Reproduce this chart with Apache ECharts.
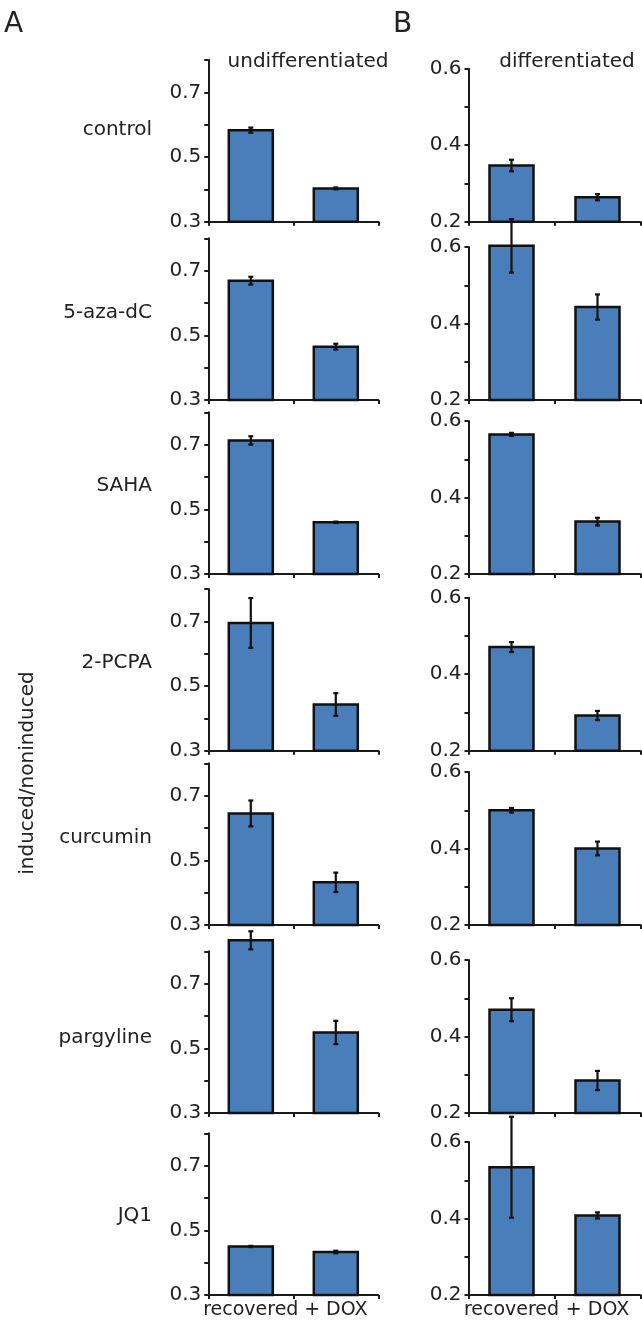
<!DOCTYPE html>
<html><head><meta charset="utf-8">
<script src="https://cdn.jsdelivr.net/npm/echarts@6/dist/echarts.min.js"></script>
<style>html,body{margin:0;padding:0;background:#fff}#c{width:642px;height:1321px}</style>
</head><body><div id="c"></div>
<script>
// ---- data ----
const treatments = ['control', '5-aza-dC', 'SAHA', '2-PCPA', 'curcumin', 'pargyline', 'JQ1'];
const conditions = ['recovered', '+ DOX'];
const undiffMean = [[0.583, 0.403], [0.669, 0.465], [0.713, 0.460], [0.695, 0.443], [0.645, 0.432], [0.834, 0.549], [0.450, 0.433]];
const undiffErr  = [[0.008, 0.003], [0.012, 0.009], [0.013, 0.002], [0.077, 0.035], [0.040, 0.030], [0.028, 0.036], [0.002, 0.004]];
const diffMean   = [[0.347, 0.264], [0.603, 0.443], [0.565, 0.337], [0.471, 0.292], [0.500, 0.400], [0.470, 0.285], [0.534, 0.408]];
const diffErr    = [[0.015, 0.008], [0.070, 0.033], [0.004, 0.010], [0.013, 0.012], [0.006, 0.018], [0.030, 0.025], [0.132, 0.008]];
const undiffTickLabels = ['0.3', '0.5', '0.7'];
const diffTickLabels = ['0.2', '0.4', '0.6'];
const panelTitles = ['undifferentiated', 'differentiated'];
const panelLetters = ['A', 'B'];
const yTitle = 'induced/noninduced';

// ---- layout ----
const FONT = 'DejaVu Sans';
const TXT = '#222';
const rowBottoms = [221.7, 400, 574, 750.7, 925, 1113, 1295];
const labelY = [130, 313, 486, 663, 838, 1038, 1216];
const cols = [
  {left: 208.3, width: 170, min: 0.3, max: 0.8, height: 161.7, ticks: undiffTickLabels, mean: undiffMean, err: undiffErr},
  {left: 468.5, width: 172, min: 0.2, max: 0.6, height: 153, ticks: diffTickLabels, mean: diffMean, err: diffErr}
];
const BAR_W = 44, CAP = 2.5;

const grids = [], xAxes = [], yAxes = [], series = [];
let gi = 0;
treatments.forEach((t, r) => {
  cols.forEach((c, ci) => {
    grids.push({left: c.left, top: rowBottoms[r] - c.height, width: c.width, height: c.height, containLabel: false});
    const last = r === treatments.length - 1;
    xAxes.push({
      type: 'category', gridIndex: gi, data: conditions, boundaryGap: true,
      axisLine: {lineStyle: {color: '#1a1a1a', width: 2}},
      axisTick: {show: true, inside: false, length: 4, alignWithLabel: false, lineStyle: {color: '#1a1a1a', width: 2}},
      axisLabel: {show: last, color: TXT, fontSize: 19, fontFamily: FONT, margin: 6, interval: 0}
    });
    const ticks = c.ticks;
    const base = c.min;
    yAxes.push({
      type: 'value', gridIndex: gi, min: c.min, max: c.max, interval: 0.1,
      axisLine: {show: true, lineStyle: {color: '#1a1a1a', width: 2}},
      axisTick: {show: true, inside: false, length: 4, lineStyle: {color: '#1a1a1a', width: 2}},
      splitLine: {show: false},
      axisLabel: {color: TXT, fontSize: 20, fontFamily: FONT, margin: 7, showMinLabel: true, showMaxLabel: true,
        formatter: v => ticks.indexOf(v.toFixed(1)) >= 0 ? v.toFixed(1) : ''}
    });
    series.push({
      type: 'custom', xAxisIndex: gi, yAxisIndex: gi, clip: false, silent: true, z: 2,
      data: c.mean[r].map((m, i) => [i, m, c.err[r][i]]),
      renderItem: (params, api) => {
        const x = api.value(0), m = api.value(1), e = api.value(2);
        const top = api.coord([x, m]), bot = api.coord([x, base]);
        const hi = api.coord([x, m + e]), lo = api.coord([x, m - e]);
        const st = {stroke: '#111', lineWidth: 2.2};
        return {type: 'group', children: [
          {type: 'rect', shape: {x: top[0] - BAR_W / 2, y: top[1], width: BAR_W, height: bot[1] - top[1]},
            style: {fill: '#4a7ebb', stroke: '#111', lineWidth: 2.5}},
          {type: 'line', shape: {x1: hi[0], y1: hi[1], x2: lo[0], y2: lo[1]}, style: st},
          {type: 'line', shape: {x1: hi[0] - CAP, y1: hi[1], x2: hi[0] + CAP, y2: hi[1]}, style: st},
          {type: 'line', shape: {x1: lo[0] - CAP, y1: lo[1], x2: lo[0] + CAP, y2: lo[1]}, style: st}
        ]};
      }
    });
    gi++;
  });
});

const graphics = [];
treatments.forEach((t, r) => {
  graphics.push({type: 'text', x: 152, y: labelY[r], style: {text: t, align: 'right', verticalAlign: 'middle', fontSize: 20, fontFamily: FONT, fill: TXT}});
});
graphics.push({type: 'text', x: 308, y: 62, style: {text: panelTitles[0], align: 'center', verticalAlign: 'middle', fontSize: 20, fontFamily: FONT, fill: TXT}});
graphics.push({type: 'text', x: 567, y: 62, style: {text: panelTitles[1], align: 'center', verticalAlign: 'middle', fontSize: 20, fontFamily: FONT, fill: TXT}});
graphics.push({type: 'text', x: 4, y: 25, style: {text: panelLetters[0], align: 'left', verticalAlign: 'middle', fontSize: 28, fontFamily: FONT, fill: TXT}});
graphics.push({type: 'text', x: 393, y: 25, style: {text: panelLetters[1], align: 'left', verticalAlign: 'middle', fontSize: 28, fontFamily: FONT, fill: TXT}});
graphics.push({type: 'text', x: 27.5, y: 773, rotation: Math.PI / 2, style: {text: yTitle, align: 'center', verticalAlign: 'middle', fontSize: 20, fontFamily: FONT, fill: TXT}});

const chart = echarts.init(document.getElementById('c'), null, {renderer: 'canvas'});
chart.setOption({
  animation: false,
  backgroundColor: '#fff',
  grid: grids, xAxis: xAxes, yAxis: yAxes, series: series,
  graphic: graphics
});
</script></body></html>
